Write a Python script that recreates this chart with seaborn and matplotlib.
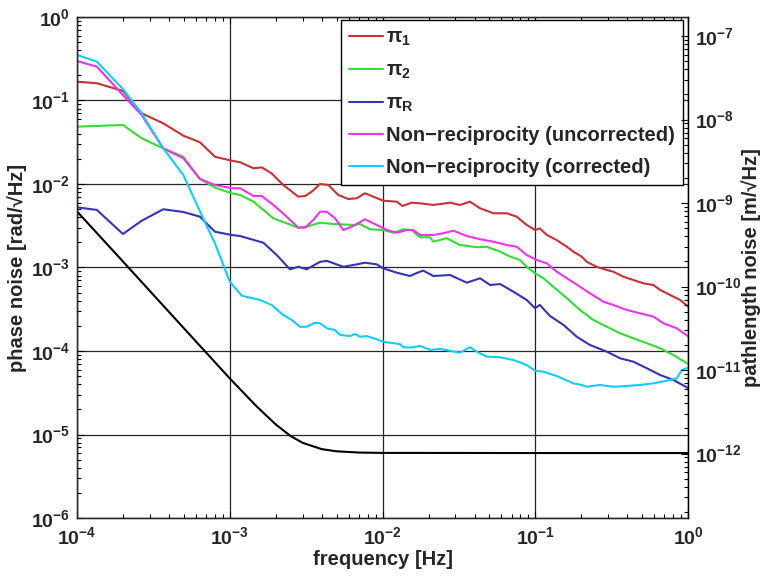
import numpy as np
import pandas as pd
import matplotlib
matplotlib.use("Agg")
import matplotlib.pyplot as plt
import seaborn as sns

# --- data (frequency in Hz, noise in rad/sqrt(Hz)) ---
pi1_f = [1.0e-4, 1.35e-4, 2.0e-4, 2.65e-4, 3.67e-4, 4.97e-4, 6.38e-4, 8.0e-4, 1.03e-3,
         1.17e-3, 1.43e-3, 1.62e-3, 1.88e-3, 2.24e-3, 2.81e-3, 3.11e-3, 3.44e-3, 3.90e-3,
         4.42e-3, 5.13e-3, 5.97e-3, 6.78e-3, 7.67e-3, 8.71e-3, 1.01e-2, 1.24e-2, 1.35e-2,
         1.55e-2, 1.76e-2, 2.15e-2, 2.77e-2, 3.21e-2, 3.74e-2, 4.35e-2, 5.31e-2, 6.50e-2,
         7.56e-2, 8.79e-2, 9.96e-2, 0.107, 0.119, 0.138, 0.161, 0.177, 0.201, 0.217, 0.252,
         0.294, 0.324, 0.377, 0.438, 0.510, 0.593, 0.656, 0.762, 0.887, 1.0]
pi1_v = [0.168, 0.161, 0.130, 0.0703, 0.0533, 0.0379, 0.0316, 0.0212, 0.0190,
         0.0182, 0.0154, 0.0158, 0.0134, 0.00973, 0.00705, 0.00718, 0.00809, 0.0100,
         0.00973, 0.00738, 0.00661, 0.00674, 0.00774, 0.00705, 0.00631, 0.00614, 0.00545,
         0.00597, 0.00587, 0.00561, 0.00597, 0.00561, 0.00614, 0.00512, 0.00446, 0.00446,
         0.00406, 0.00323, 0.00281, 0.00294, 0.00245, 0.00213, 0.00177, 0.00155, 0.00135,
         0.00117, 0.00102, 9.33e-4, 8.91e-4, 7.76e-4, 7.08e-4, 6.47e-4, 6.17e-4, 5.38e-4,
         4.69e-4, 4.08e-4, 3.4e-4]

pi2_f = [1.0e-4, 2.0e-4, 2.65e-4, 3.67e-4, 4.97e-4, 6.38e-4, 8.0e-4, 1.03e-3, 1.17e-3,
         1.43e-3, 1.66e-3, 1.93e-3, 2.36e-3, 2.81e-3, 3.19e-3, 3.90e-3, 4.76e-3, 6.44e-3,
         7.12e-3, 8.28e-3, 1.01e-2, 1.18e-2, 1.37e-2, 1.55e-2, 1.76e-2, 2.05e-2, 2.15e-2,
         2.63e-2, 3.21e-2, 4.14e-2, 4.81e-2, 5.88e-2, 6.84e-2, 7.94e-2, 8.79e-2, 9.96e-2,
         0.113, 0.131, 0.161, 0.196, 0.240, 0.294, 0.359, 0.438, 0.537, 0.656, 0.801, 1.0]
pi2_v = [0.0486, 0.0509, 0.0353, 0.0267, 0.0212, 0.0115, 0.00904, 0.00774, 0.00738,
         0.00614, 0.00489, 0.00388, 0.00338, 0.00300, 0.00308, 0.00344, 0.00332, 0.00323,
         0.00332, 0.00287, 0.00281, 0.00261, 0.00287, 0.00281, 0.00230, 0.00230, 0.00204,
         0.00224, 0.00186, 0.00175, 0.00177, 0.00155, 0.00135, 0.00123, 0.00102, 8.53e-4,
         7.43e-4, 5.89e-4, 4.28e-4, 3.10e-4, 2.35e-4, 1.95e-4, 1.63e-4, 1.42e-4, 1.24e-4,
         1.08e-4, 8.95e-5, 7.0e-5]

piR_f = [1.0e-4, 1.35e-4, 2.0e-4, 2.65e-4, 3.67e-4, 4.97e-4, 6.38e-4, 8.0e-4, 1.03e-3,
         1.17e-3, 1.66e-3, 2.03e-3, 2.48e-3, 2.81e-3, 3.19e-3, 3.90e-3, 4.32e-3, 5.54e-3,
         6.78e-3, 7.67e-3, 9.17e-3, 1.01e-2, 1.24e-2, 1.51e-2, 1.76e-2, 1.85e-2, 2.15e-2,
         2.77e-2, 3.56e-2, 4.35e-2, 5.06e-2, 5.88e-2, 7.18e-2, 8.79e-2, 9.96e-2, 0.107,
         0.125, 0.153, 0.187, 0.228, 0.294, 0.359, 0.438, 0.537, 0.656, 0.801, 1.0]
piR_v = [0.00526, 0.00489, 0.00252, 0.00363, 0.00498, 0.00462, 0.00406, 0.00268, 0.00245,
         0.00238, 0.00198, 0.00141, 9.51e-4, 0.00102, 9.51e-4, 0.00117, 0.00120, 0.00102,
         0.00109, 0.00114, 0.00109, 9.77e-4, 8.67e-4, 7.91e-4, 8.91e-4, 9.16e-4, 7.91e-4,
         8.13e-4, 6.58e-4, 7.43e-4, 6.17e-4, 6.34e-4, 5.13e-4, 4.08e-4, 3.25e-4, 3.56e-4,
         2.62e-4, 2.05e-4, 1.48e-4, 1.18e-4, 9.82e-5, 8.18e-5, 7.45e-5, 6.21e-5, 5.16e-5,
         4.50e-5, 3.6e-5]

nr_unc_f = [1.0e-4, 1.35e-4, 2.0e-4, 2.65e-4, 3.67e-4, 4.97e-4, 6.38e-4, 8.0e-4, 1.03e-3,
            1.17e-3, 1.43e-3, 1.62e-3, 1.93e-3, 2.36e-3, 2.81e-3, 3.11e-3, 3.52e-3, 3.90e-3,
            4.32e-3, 4.89e-3, 5.54e-3, 6.44e-3, 7.67e-3, 9.17e-3, 1.07e-2, 1.24e-2, 1.44e-2,
            1.59e-2, 1.76e-2, 2.15e-2, 2.50e-2, 2.91e-2, 3.56e-2, 4.35e-2, 5.31e-2, 6.50e-2,
            7.56e-2, 8.79e-2, 0.102, 0.119, 0.138, 0.161, 0.196, 0.228, 0.279, 0.324, 0.397,
            0.485, 0.593, 0.689, 0.843, 1.0]
nr_unc_v = [0.297, 0.254, 0.116, 0.0670, 0.0267, 0.0203, 0.0115, 0.00973, 0.00889,
            0.00889, 0.00718, 0.00718, 0.00561, 0.00406, 0.00300, 0.00300, 0.00371, 0.00466,
            0.00466, 0.00388, 0.00281, 0.00314, 0.00378, 0.00323, 0.00281, 0.00261, 0.00281,
            0.00281, 0.00245, 0.00245, 0.00257, 0.00276, 0.00238, 0.00218, 0.00204, 0.00186,
            0.00177, 0.00141, 0.00123, 0.00112, 8.91e-4, 7.43e-4, 5.89e-4, 4.91e-4, 3.89e-4,
            3.56e-4, 3.10e-4, 2.83e-4, 2.58e-4, 2.15e-4, 1.87e-4, 1.5e-4]

nr_cor_f = [1.0e-4, 1.35e-4, 2.0e-4, 2.65e-4, 3.67e-4, 4.97e-4, 6.6e-4, 8.0e-4, 1.0e-3,
            1.20e-3, 1.58e-3, 1.88e-3, 2.24e-3, 2.55e-3, 2.88e-3, 3.19e-3, 3.61e-3, 3.90e-3,
            4.32e-3, 4.89e-3, 5.27e-3, 6.12e-3, 6.61e-3, 7.12e-3, 7.88e-3, 9.17e-3, 1.01e-2,
            1.18e-2, 1.30e-2, 1.37e-2, 1.55e-2, 1.76e-2, 2.05e-2, 2.38e-2, 3.21e-2, 3.74e-2,
            4.14e-2, 4.81e-2, 5.88e-2, 7.18e-2, 8.79e-2, 9.96e-2, 0.113, 0.138, 0.177, 0.201,
            0.217, 0.265, 0.324, 0.397, 0.485, 0.593, 0.724, 0.843, 0.910, 1.0]
nr_cor_v = [0.351, 0.292, 0.137, 0.0703, 0.0267, 0.0128, 0.0041, 0.00195, 6.76e-4,
            4.59e-4, 4.08e-4, 3.56e-4, 2.70e-4, 2.35e-4, 1.95e-4, 1.95e-4, 2.18e-4, 2.15e-4,
            1.87e-4, 1.78e-4, 1.56e-4, 1.51e-4, 1.60e-4, 1.48e-4, 1.51e-4, 1.38e-4, 1.29e-4,
            1.24e-4, 1.21e-4, 1.11e-4, 1.10e-4, 1.15e-4, 1.03e-4, 1.06e-4, 9.55e-5, 1.11e-4,
            9.82e-5, 8.55e-5, 8.41e-5, 7.80e-5, 6.79e-5, 5.81e-5, 5.65e-5, 5.02e-5, 4.10e-5,
            3.92e-5, 3.73e-5, 3.92e-5, 3.73e-5, 3.81e-5, 3.92e-5, 4.10e-5, 4.41e-5, 4.71e-5,
            5.92e-5, 6.3e-5]

floor_f = [1.0e-4, 2.0e-4, 5.0e-4, 1.0e-3, 1.5e-3, 2.0e-3, 2.5e-3, 3.0e-3, 4.0e-3,
           5.0e-3, 7.0e-3, 1.0e-2, 1.0e-1, 1.0]
floor_v = [4.7e-3, 1.18e-3, 1.88e-4, 4.7e-5, 2.17e-5, 1.32e-5, 9.6e-6, 7.95e-6, 6.68e-6,
           6.29e-6, 6.08e-6, 6.02e-6, 6.0e-6, 6.0e-6]

series = [
    (r"$\mathrm{\pi}_{\mathbf{1}}$", pi1_f, pi1_v, "#c83232"),
    (r"$\mathrm{\pi}_{\mathbf{2}}$", pi2_f, pi2_v, "#33dd33"),
    (r"$\mathrm{\pi}_{\mathbf{R}}$", piR_f, piR_v, "#3333bb"),
    ("Non\u2212reciprocity (uncorrected)", nr_unc_f, nr_unc_v, "#ee33ee"),
    ("Non\u2212reciprocity (corrected)", nr_cor_f, nr_cor_v, "#11ccff"),
]

# 1064 nm: rad -> m
rad_to_m = 1.064e-6 / (2 * np.pi)

sns.set_style("ticks")
plt.rcParams["font.family"] = ["Liberation Sans", "DejaVu Sans"]
plt.rcParams["font.weight"] = "bold"
plt.rcParams["mathtext.fontset"] = "custom"
plt.rcParams["mathtext.rm"] = "Liberation Sans"
plt.rcParams["mathtext.bf"] = "Liberation Sans:bold"
plt.rcParams["mathtext.it"] = "Liberation Sans:italic"

fig = plt.figure(figsize=(7.62, 5.78), dpi=100)
ax = fig.add_axes([0.101, 0.1038, 0.802, 0.8668])
ax.set_xscale("log")
ax.set_yscale("log")

for label, f, v, color in series:
    df = pd.DataFrame({"f": f, "v": v})
    sns.lineplot(data=df, x="f", y="v", color=color, lw=1.5, label=label, ax=ax)

df = pd.DataFrame({"f": floor_f, "v": floor_v})
sns.lineplot(data=df, x="f", y="v", color="black", lw=1.5, ax=ax)

ax.set_xlim(1e-4, 1)
ax.set_ylim(1e-6, 1)
ax.grid(True, which="major", color="0.15", lw=0.9)
ax.set_xlabel("frequency [Hz]", fontsize=14.5, fontweight="bold", labelpad=1)
ax.set_ylabel("phase noise [rad/\u221aHz]", fontsize=14.5, fontweight="bold", labelpad=3)
ax.tick_params(which="both", direction="in", top=True, labelsize=14, width=0.8, color="k")
ax.tick_params(which="major", length=5)
ax.tick_params(which="minor", length=3)
ax.tick_params(axis="x", which="major", pad=6)
ax.tick_params(axis="y", which="major", pad=5)
for s in ax.spines.values():
    s.set_color("k")
    s.set_linewidth(1.0)

leg = ax.legend(loc="upper right", bbox_to_anchor=(0.992, 0.994), borderaxespad=0,
                fontsize=14.5, handlelength=1.7, handletextpad=0.15, labelspacing=0.62,
                fancybox=False, framealpha=1, edgecolor="k", borderpad=0.4)
leg.get_frame().set_linewidth(1.0)
for t in leg.get_texts():
    t.set_fontweight("bold")

ax2 = ax.twinx()
ax2.set_yscale("log")
ax2.set_ylim(1e-6 * rad_to_m, 1 * rad_to_m)
ax2.set_ylabel("pathlength noise [m/\u221aHz]", fontsize=14.5, fontweight="bold", labelpad=0)
ax2.tick_params(which="both", direction="in", labelsize=14, width=0.8, color="k")
ax2.tick_params(which="major", length=5, pad=5)
ax2.tick_params(which="minor", length=3)
ax2.spines["right"].set_color("k")

for lab in ax.get_xticklabels() + ax.get_yticklabels() + ax2.get_yticklabels():
    lab.set_fontweight("bold")

fig.savefig("out.png", dpi=100)
